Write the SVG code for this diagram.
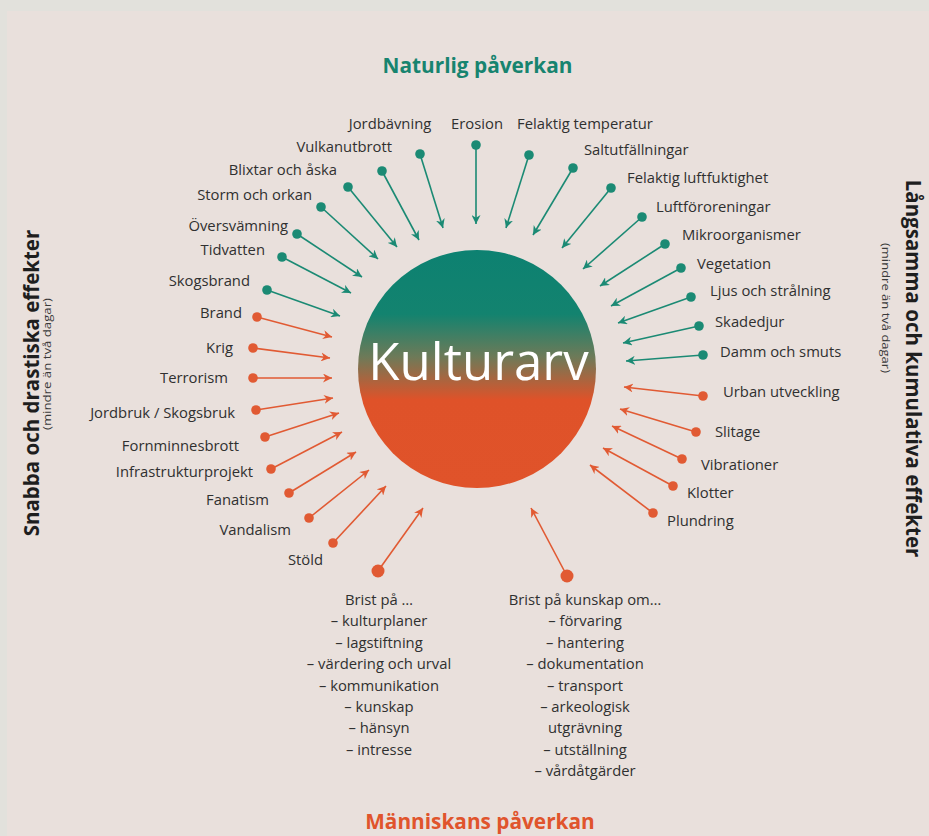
<svg xmlns="http://www.w3.org/2000/svg" width="929" height="836" viewBox="0 0 929 836">
<style>
.lbl{font-family:"Open Sans","Noto Sans","Liberation Sans",sans-serif;font-size:14.8px;fill:#303030}
.end{text-anchor:end}
.mid{text-anchor:middle}
.g{stroke:#1b8a74;stroke-width:1.6;fill:none;marker-start:url(#dg);marker-end:url(#ag)}
.o{stroke:#e15a33;stroke-width:1.6;fill:none;marker-start:url(#do);marker-end:url(#ao)}
.ob{stroke:#e15a33;stroke-width:1.6;fill:none;marker-start:url(#dob);marker-end:url(#ao)}
.ttl{font-family:"Open Sans","Noto Sans","Liberation Sans",sans-serif;font-weight:bold;font-size:20.8px;text-anchor:middle}
.side{font-family:"Open Sans","Noto Sans","Liberation Sans",sans-serif;font-weight:bold;font-size:20.5px;fill:#1e1e1e;text-anchor:middle}
.sub{font-family:"Open Sans","Noto Sans","Liberation Sans",sans-serif;font-size:11.5px;fill:#3a3a3a;text-anchor:middle}
</style>
<defs>
<linearGradient id="grad" x1="0" y1="0" x2="0" y2="1">
<stop offset="0" stop-color="#0d8171"/>
<stop offset="0.27" stop-color="#13836f"/>
<stop offset="0.45" stop-color="#6e7a58"/>
<stop offset="0.63" stop-color="#df5229"/>
<stop offset="1" stop-color="#e0532a"/>
</linearGradient>
<marker id="ag" viewBox="0 0 10 10" refX="10" refY="5" markerWidth="9" markerHeight="9" markerUnits="userSpaceOnUse" orient="auto"><path d="M0,0 L10,5 L0,10 L3,5 Z" fill="#1b8a74"/></marker>
<marker id="ao" viewBox="0 0 10 10" refX="10" refY="5" markerWidth="9" markerHeight="9" markerUnits="userSpaceOnUse" orient="auto"><path d="M0,0 L10,5 L0,10 L3,5 Z" fill="#e15a33"/></marker>
<marker id="dg" viewBox="0 0 10 10" refX="5" refY="5" markerWidth="10" markerHeight="10" markerUnits="userSpaceOnUse"><circle cx="5" cy="5" r="4.8" fill="#1b8a74"/></marker>
<marker id="do" viewBox="0 0 10 10" refX="5" refY="5" markerWidth="10" markerHeight="10" markerUnits="userSpaceOnUse"><circle cx="5" cy="5" r="4.8" fill="#e15a33"/></marker>
<marker id="dob" viewBox="0 0 14 14" refX="7" refY="7" markerWidth="14" markerHeight="14" markerUnits="userSpaceOnUse"><circle cx="7" cy="7" r="6.5" fill="#e15a33"/></marker>
</defs>
<rect x="0" y="0" width="929" height="836" fill="#e2e1dc"/>
<rect x="7" y="11" width="922" height="825" fill="#e9e0dc"/>

<g id="titles">
<text class="ttl" x="477.5" y="73" fill="#17846f">Naturlig påverkan</text>
<text class="ttl" x="480" y="829" fill="#e0542c">Människans påverkan</text>
<text class="side" transform="translate(39,383) rotate(-90)">Snabba och drastiska effekter</text>
<text class="sub" transform="translate(51,364) rotate(-90)" textLength="132" lengthAdjust="spacingAndGlyphs">(mindre än två dagar)</text>
<text class="side" transform="translate(906,368.5) rotate(90)">Långsamma och kumulativa effekter</text>
<text class="sub" transform="translate(882,308) rotate(90)" textLength="130" lengthAdjust="spacingAndGlyphs">(mindre än två dagar)</text>
</g>

<g id="kulturarv">
<circle cx="477" cy="369" r="119" fill="url(#grad)"/>
<text x="478.5" y="380" text-anchor="middle" font-family="'Open Sans','Noto Sans','Liberation Sans',sans-serif" font-size="51" fill="#ffffff">Kulturarv</text>
</g>

<g id="connectors">
<line class="g" x1="420" y1="154" x2="443" y2="228"/>
<line class="g" x1="476" y1="145" x2="476" y2="224"/>
<line class="g" x1="382" y1="171" x2="419" y2="240"/>
<line class="g" x1="348" y1="187" x2="397" y2="247"/>
<line class="g" x1="321" y1="207" x2="378" y2="259"/>
<line class="g" x1="297" y1="234" x2="362" y2="277"/>
<line class="g" x1="282" y1="257" x2="351" y2="293"/>
<line class="g" x1="267" y1="290" x2="340" y2="316"/>
<line class="g" x1="529" y1="155" x2="506" y2="228"/>
<line class="g" x1="573" y1="168" x2="533" y2="235"/>
<line class="g" x1="611" y1="188" x2="562" y2="248"/>
<line class="g" x1="642" y1="217" x2="583" y2="269"/>
<line class="g" x1="665" y1="244" x2="600" y2="286"/>
<line class="g" x1="681" y1="268" x2="611" y2="306"/>
<line class="g" x1="691" y1="297" x2="618" y2="323"/>
<line class="g" x1="699" y1="326" x2="623" y2="343"/>
<line class="g" x1="703" y1="355" x2="626" y2="361"/>
<line class="o" x1="257" y1="317" x2="332" y2="337"/>
<line class="o" x1="253" y1="348" x2="330" y2="358"/>
<line class="o" x1="253" y1="378" x2="332" y2="378"/>
<line class="o" x1="256" y1="410" x2="333" y2="398"/>
<line class="o" x1="265" y1="437" x2="339" y2="413"/>
<line class="o" x1="271" y1="469" x2="342" y2="432"/>
<line class="o" x1="289" y1="493" x2="356" y2="452"/>
<line class="o" x1="309" y1="518" x2="369" y2="470"/>
<line class="o" x1="333" y1="543" x2="386" y2="486"/>
<line class="ob" x1="378" y1="571" x2="423" y2="508"/>
<line class="ob" x1="567" y1="576" x2="531" y2="508"/>
<line class="o" x1="703" y1="396" x2="624" y2="387"/>
<line class="o" x1="696" y1="432" x2="620" y2="409"/>
<line class="o" x1="682" y1="459" x2="612" y2="426"/>
<line class="o" x1="673" y1="486" x2="603" y2="448"/>
<line class="o" x1="653" y1="513" x2="590" y2="465"/>
</g>

<g id="n-jordbavning"><text class="lbl mid" x="390" y="129">Jordbävning</text></g>
<g id="n-erosion"><text class="lbl mid" x="477" y="129">Erosion</text></g>
<g id="n-felaktig-temperatur"><text class="lbl" x="517" y="129">Felaktig temperatur</text></g>
<g id="n-vulkanutbrott"><text class="lbl end" x="392" y="152">Vulkanutbrott</text></g>
<g id="n-blixtar"><text class="lbl end" x="337" y="175">Blixtar och åska</text></g>
<g id="n-storm"><text class="lbl end" x="312" y="200">Storm och orkan</text></g>
<g id="n-oversvamning"><text class="lbl end" x="288" y="231">Översvämning</text></g>
<g id="n-tidvatten"><text class="lbl end" x="265" y="255">Tidvatten</text></g>
<g id="n-skogsbrand"><text class="lbl end" x="250" y="286">Skogsbrand</text></g>
<g id="n-brand"><text class="lbl end" x="242" y="318">Brand</text></g>
<g id="n-krig"><text class="lbl end" x="233" y="353">Krig</text></g>
<g id="n-terrorism"><text class="lbl end" x="228" y="383">Terrorism</text></g>
<g id="n-jordbruk"><text class="lbl end" x="235" y="418">Jordbruk / Skogsbruk</text></g>
<g id="n-fornminnesbrott"><text class="lbl end" x="239" y="451">Fornminnesbrott</text></g>
<g id="n-infrastruktur"><text class="lbl end" x="253" y="477">Infrastrukturprojekt</text></g>
<g id="n-fanatism"><text class="lbl end" x="269" y="505">Fanatism</text></g>
<g id="n-vandalism"><text class="lbl end" x="291" y="535">Vandalism</text></g>
<g id="n-stold"><text class="lbl end" x="323" y="565">Stöld</text></g>
<g id="n-saltutfallningar"><text class="lbl" x="584" y="155">Saltutfällningar</text></g>
<g id="n-luftfuktighet"><text class="lbl" x="627" y="183">Felaktig luftfuktighet</text></g>
<g id="n-luftfororeningar"><text class="lbl" x="656" y="212">Luftföroreningar</text></g>
<g id="n-mikroorganismer"><text class="lbl" x="682" y="240">Mikroorganismer</text></g>
<g id="n-vegetation"><text class="lbl" x="697" y="269">Vegetation</text></g>
<g id="n-ljus"><text class="lbl" x="710" y="296">Ljus och strålning</text></g>
<g id="n-skadedjur"><text class="lbl" x="715" y="327">Skadedjur</text></g>
<g id="n-damm"><text class="lbl" x="720" y="357">Damm och smuts</text></g>
<g id="n-urban"><text class="lbl" x="723" y="397">Urban utveckling</text></g>
<g id="n-slitage"><text class="lbl" x="715" y="437">Slitage</text></g>
<g id="n-vibrationer"><text class="lbl" x="701" y="470">Vibrationer</text></g>
<g id="n-klotter"><text class="lbl" x="687" y="498">Klotter</text></g>
<g id="n-plundring"><text class="lbl" x="667" y="526">Plundring</text></g>

<g id="n-brist">
<text class="lbl mid" x="379" y="605">Brist på …</text>
<text class="lbl mid" x="379" y="626.4">– kulturplaner</text>
<text class="lbl mid" x="379" y="647.8">– lagstiftning</text>
<text class="lbl mid" x="379" y="669.2">– värdering och urval</text>
<text class="lbl mid" x="379" y="690.6">– kommunikation</text>
<text class="lbl mid" x="379" y="712">– kunskap</text>
<text class="lbl mid" x="379" y="733.4">– hänsyn</text>
<text class="lbl mid" x="379" y="754.8">– intresse</text>
</g>
<g id="n-brist-kunskap">
<text class="lbl mid" x="585" y="605">Brist på kunskap om…</text>
<text class="lbl mid" x="585" y="626.4">– förvaring</text>
<text class="lbl mid" x="585" y="647.8">– hantering</text>
<text class="lbl mid" x="585" y="669.2">– dokumentation</text>
<text class="lbl mid" x="585" y="690.6">– transport</text>
<text class="lbl mid" x="585" y="712">– arkeologisk</text>
<text class="lbl mid" x="585" y="733.4">utgrävning</text>
<text class="lbl mid" x="585" y="754.8">– utställning</text>
<text class="lbl mid" x="585" y="776.2">– vårdåtgärder</text>
</g>
</svg>
